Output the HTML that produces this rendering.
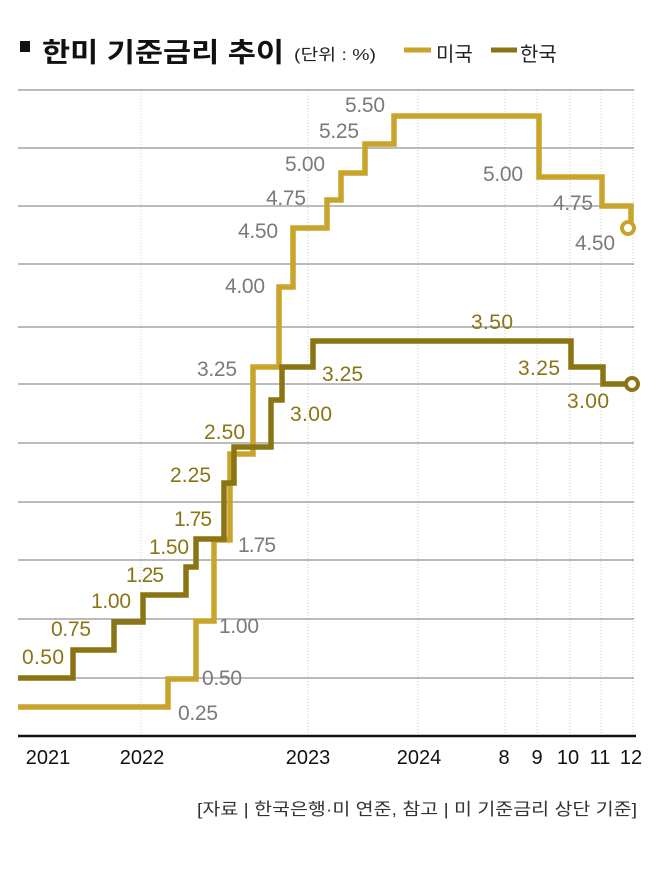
<!DOCTYPE html>
<html><head><meta charset="utf-8"><style>
html,body{margin:0;padding:0;background:#fff;}
svg{display:block;font-family:"Liberation Sans","Noto Sans CJK KR",sans-serif;}
</style></head><body>
<svg width="658" height="870" viewBox="0 0 658 870">
<rect x="20" y="41" width="10" height="11" fill="#111"/>
<text x="42" y="62" font-size="27" font-weight="bold" fill="#111" textLength="242" lengthAdjust="spacingAndGlyphs">한미 기준금리 추이</text>
<text x="294" y="60" font-size="16" fill="#222" textLength="82" lengthAdjust="spacingAndGlyphs">(단위 : %)</text>
<line x1="404" y1="50" x2="431" y2="50" stroke="#c8a42a" stroke-width="5"/>
<text x="436" y="61" font-size="20" fill="#222">미국</text>
<line x1="491" y1="50" x2="517" y2="50" stroke="#8a7414" stroke-width="5"/>
<text x="520" y="61" font-size="20" fill="#222">한국</text>
<g stroke="#ccc" stroke-width="1" stroke-dasharray="1,2">
<line x1="141" y1="90" x2="141" y2="736"/><line x1="308" y1="90" x2="308" y2="736"/>
<line x1="418" y1="90" x2="418" y2="736"/><line x1="505" y1="90" x2="505" y2="736"/>
<line x1="537" y1="90" x2="537" y2="736"/><line x1="570" y1="90" x2="570" y2="736"/>
<line x1="601" y1="90" x2="601" y2="736"/><line x1="633" y1="90" x2="633" y2="736"/>
</g>
<g stroke="#777" stroke-width="1">
<line x1="18" y1="90" x2="634" y2="90"/><line x1="18" y1="148" x2="634" y2="148"/>
<line x1="18" y1="206" x2="634" y2="206"/><line x1="18" y1="264" x2="634" y2="264"/>
<line x1="18" y1="327" x2="634" y2="327"/><line x1="18" y1="384" x2="634" y2="384"/>
<line x1="18" y1="443" x2="634" y2="443"/><line x1="18" y1="502" x2="634" y2="502"/>
<line x1="18" y1="560" x2="634" y2="560"/><line x1="18" y1="619" x2="634" y2="619"/>
<line x1="18" y1="678" x2="634" y2="678"/>
</g>
<line x1="18" y1="736" x2="636" y2="736" stroke="#111" stroke-width="2.5"/>
<polyline fill="none" stroke="#c8a42a" stroke-width="5.5" points="18,707 168,707 168,679 196,679 196,621 214,621 214,540 230,540 230,454 253,454 253,367 279,367 279,287 293,287 293,228 327,228 327,200 341,200 341,173 365,173 365,144 394,144 394,116 539,116 539,177 602,177 602,206 631,206 631,222"/>
<circle cx="628" cy="228" r="6" fill="#fff" stroke="#c8a42a" stroke-width="4"/>
<polyline fill="none" stroke="#8a7414" stroke-width="5.5" points="18,678 73,678 73,650 114,650 114,622 143,622 143,595 186,595 186,567 196,567 196,539 224,539 224,483 234,483 234,447 271,447 271,400 282,400 282,367 313,367 313,341 571,341 571,367 603,367 603,384 626,384"/>
<circle cx="632" cy="384" r="6" fill="#fff" stroke="#8a7414" stroke-width="4"/>
<g font-size="21" fill="#7a7a7a" lengthAdjust="spacingAndGlyphs">
<text x="178" y="720" textLength="40">0.25</text>
<text x="202" y="685" textLength="40">0.50</text>
<text x="219" y="633" textLength="40">1.00</text>
<text x="238" y="552" textLength="38">1.75</text>
<text x="197" y="376" textLength="40">3.25</text>
<text x="225" y="293" textLength="40">4.00</text>
<text x="238" y="238" textLength="40">4.50</text>
<text x="266" y="205" textLength="40">4.75</text>
<text x="285" y="171" textLength="40">5.00</text>
<text x="319" y="138" textLength="40">5.25</text>
<text x="345" y="112" textLength="40">5.50</text>
<text x="483" y="181" textLength="40">5.00</text>
<text x="553" y="210" textLength="40">4.75</text>
<text x="575" y="250" textLength="40">4.50</text>
</g>
<g font-size="21" fill="#8a7414" lengthAdjust="spacingAndGlyphs">
<text x="22" y="664" textLength="42">0.50</text>
<text x="51" y="636" textLength="40">0.75</text>
<text x="91" y="608" textLength="40">1.00</text>
<text x="126" y="582" textLength="38">1.25</text>
<text x="149" y="554" textLength="40">1.50</text>
<text x="174" y="526" textLength="38">1.75</text>
<text x="170" y="482" textLength="41">2.25</text>
<text x="204" y="439" textLength="41">2.50</text>
<text x="290" y="421" textLength="42">3.00</text>
<text x="322" y="381" textLength="41">3.25</text>
<text x="471" y="329" textLength="42">3.50</text>
<text x="518" y="375" textLength="42">3.25</text>
<text x="567" y="408" textLength="42">3.00</text>
</g>
<g font-size="20" fill="#111" text-anchor="middle">
<text x="48" y="764">2021</text><text x="142" y="764">2022</text>
<text x="308" y="764">2023</text><text x="419" y="764">2024</text>
<text x="504" y="764">8</text><text x="537" y="764">9</text>
<text x="568" y="764">10</text><text x="600" y="764">11</text><text x="631" y="764">12</text>
</g>
<text x="637" y="815" font-size="17" fill="#333" text-anchor="end" textLength="440" lengthAdjust="spacingAndGlyphs">[자료 | 한국은행·미 연준, 참고 | 미 기준금리 상단 기준]</text>
</svg>
</body></html>
